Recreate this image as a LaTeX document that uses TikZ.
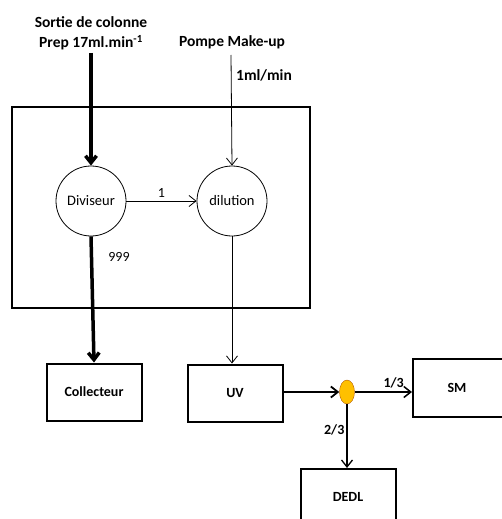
\documentclass[tikz,border=0pt]{standalone}
\usepackage{fontspec}
\setmainfont{Carlito}
\usetikzlibrary{arrows.meta,shapes.geometric}
\definecolor{jaune}{RGB}{255,192,0}
\begin{document}
\begin{tikzpicture}[x=1pt,y=-1pt,
    boite/.style={draw, line width=2pt, minimum width=95pt, minimum height=57pt, inner sep=0pt, font=\bfseries\fontsize{14}{16}\selectfont},
    rond/.style={circle, draw, line width=0.8pt, minimum size=70pt, inner sep=0pt, font=\fontsize{14.5}{16}\selectfont},
    titre/.style={font=\bfseries\fontsize{15.5}{18}\selectfont, inner sep=1pt},
    fleche/.style={line width=0.8pt, -{Straight Barb[length=7pt,width=11pt]}}]
  \clip (0,0) rectangle (502,519);

  % Draw frame
  \draw[line width=2.5pt] (12,107) rectangle (310,308);

  % Inputs
  \node[titre] (sortie) at (91,22) {Sortie de colonne};
  \node[titre] (prep) at (91,43) {Prep 17ml.min\textsuperscript{-1}};
  \node[titre] (pompe) at (232,42) {Pompe Make-up};
  \node[titre, anchor=west] (debit) at (235,75) {1ml/min};
  \coordinate (entree) at (91,53);
  \coordinate (makeup) at (231,55);

  % Circles and boxes
  \node[rond] (div) at (91,201) {Diviseur};
  \node[rond] (dil) at (232,201) {dilution};
  \node[boite] (coll) at (94,392) {Collecteur};
  \node[boite] (uv) at (235,393) {UV};
  \node[ellipse, draw=orange!70!black, fill=jaune, thin, minimum width=15pt, minimum height=24pt, inner sep=0pt] (jonction) at (347,392) {};
  \node[boite, anchor=west, minimum width=130pt, minimum height=58pt] (sm) at (412,388) {};
  \node[font=\bfseries\fontsize{14}{16}\selectfont] (smtexte) at (457,388) {SM};
  \node[boite, anchor=north, minimum height=60pt] (dedl) at (348,468) {};
  \node[font=\bfseries\fontsize{14}{16}\selectfont] (dedltexte) at (348,497) {DEDL};

  % Draw connectors
  \draw[fleche, line width=3.5pt] (entree) -- (div.north);
  \draw[fleche] (makeup) -- (dil.north);
  \draw[fleche] (div.east) -- node[above, font=\fontsize{14}{16}\selectfont] (un) {1} (dil.west);
  \draw[fleche, line width=3.5pt] (div.south) -- (coll.north);
  \node[font=\fontsize{14}{16}\selectfont] (mille) at (119,257) {999};
  \draw[fleche] (dil.south) -- (uv.north -| dil.south);
  \draw[fleche, line width=1.8pt] (uv.east |- jonction.west) -- (jonction.west);
  \draw[fleche, line width=1.5pt] (jonction.east) -- node[pos=0.68, above, font=\bfseries\fontsize{14}{16}\selectfont] (tiers) {1/3} (sm.west |- jonction.east);
  \draw[fleche, line width=1.3pt] (jonction.south) -- node[pos=0.4, left, inner sep=2pt, font=\bfseries\fontsize{14}{16}\selectfont] (deuxtiers) {2/3} (dedl.north -| jonction.south);
\end{tikzpicture}
\end{document}
